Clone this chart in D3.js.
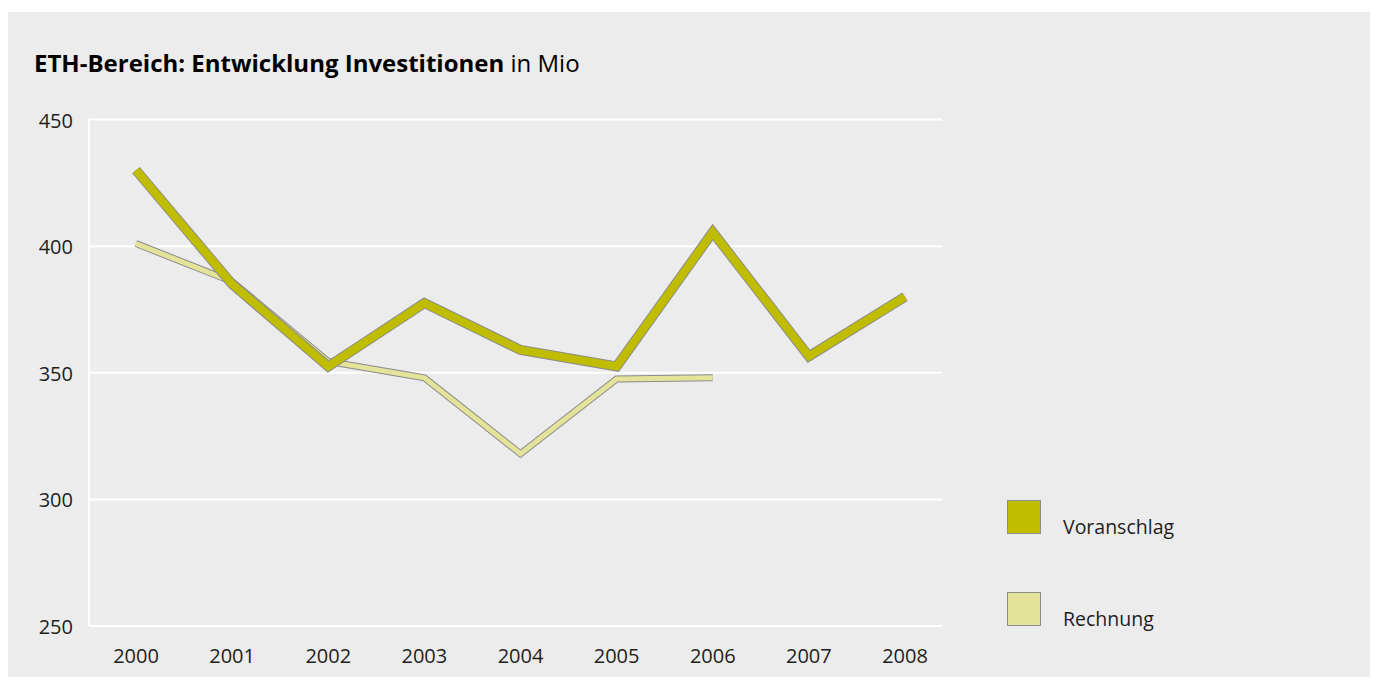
<!DOCTYPE html>
<html>
<head>
<meta charset="utf-8">
<script src="https://cdn.jsdelivr.net/npm/d3@7"></script>
<style>
  html, body { margin: 0; padding: 0; background: #fff; }
  svg text { font-family: "Open Sans", "Noto Sans", sans-serif; fill: #1e1e1e; }
</style>
</head>
<body>
<svg id="chart" width="1373" height="684"></svg>
<script>
// Daten (in Mio)
const years = ["2000", "2001", "2002", "2003", "2004", "2005", "2006", "2007", "2008"];
const voranschlag = [430, 385, 352.5, 377.5, 359, 352.5, 405.5, 356.5, 380];
const rechnung = [401, 386, 354.5, 348, 318, 347.5, 348, null, null];
const yTicks = [250, 300, 350, 400, 450];

const svg = d3.select("#chart");

// Hintergrund
svg.append("rect")
  .attr("x", 8).attr("y", 12)
  .attr("width", 1362).attr("height", 665)
  .attr("fill", "#ececec");

// Titel
const title = svg.append("text")
  .attr("x", 34).attr("y", 72)
  .style("font-size", "24px")
  .style("fill", "#000");
title.append("tspan").style("font-weight", "bold").text("ETH-Bereich: Entwicklung Investitionen");
title.append("tspan").text(" in Mio");

const plotLeft = 89, plotRight = 942, plotTop = 119.5, plotBottom = 626;

const x = d3.scalePoint()
  .domain(years)
  .range([136, 905]);

const y = d3.scaleLinear()
  .domain([250, 450])
  .range([plotBottom, plotTop]);

// Gitterlinien
svg.append("g")
  .selectAll("line")
  .data(yTicks)
  .join("line")
  .attr("x1", plotLeft).attr("x2", plotRight)
  .attr("y1", d => y(d)).attr("y2", d => y(d))
  .attr("stroke", "#fff")
  .attr("stroke-width", 2);

svg.append("line")
  .attr("x1", plotLeft).attr("x2", plotLeft)
  .attr("y1", plotTop).attr("y2", plotBottom)
  .attr("stroke", "#fff")
  .attr("stroke-width", 2);

// Achsenbeschriftung
svg.append("g")
  .selectAll("text")
  .data(yTicks)
  .join("text")
  .attr("x", 73)
  .attr("y", d => y(d) + 8)
  .attr("text-anchor", "end")
  .style("font-size", "20px")
  .text(d => d);

svg.append("g")
  .selectAll("text")
  .data(years)
  .join("text")
  .attr("x", d => x(d))
  .attr("y", 663)
  .attr("text-anchor", "middle")
  .style("font-size", "20px")
  .text(d => d);

// Linien: grauer Rand + Farbe
function drawLine(values, color, width) {
  const pts = years.map((yr, i) => [yr, values[i]]).filter(d => d[1] != null);
  const line = d3.line()
    .x(d => x(d[0]))
    .y(d => y(d[1]));
  const g = svg.append("g");
  g.append("path")
    .attr("d", line(pts))
    .attr("fill", "none")
    .attr("stroke", "#8c8c8c")
    .attr("stroke-width", width + 2)
    .attr("stroke-linejoin", "miter");
  g.append("path")
    .attr("d", line(pts))
    .attr("fill", "none")
    .attr("stroke", color)
    .attr("stroke-width", width)
    .attr("stroke-linejoin", "miter");
}

drawLine(rechnung, "#e3e39a", 5);
drawLine(voranschlag, "#c0bd00", 8);

// Legende
const legend = [
  { name: "Voranschlag", color: "#c0bd00", y: 500 },
  { name: "Rechnung", color: "#e3e39a", y: 592 }
];
const lg = svg.append("g");
lg.selectAll("rect")
  .data(legend)
  .join("rect")
  .attr("x", 1007.5)
  .attr("y", d => d.y + 0.5)
  .attr("width", 33).attr("height", 33)
  .attr("fill", d => d.color)
  .attr("stroke", "#8c8c8c")
  .attr("stroke-width", 1);
lg.selectAll("text")
  .data(legend)
  .join("text")
  .attr("x", 1063)
  .attr("y", d => d.y + 34)
  .style("font-size", "19.5px")
  .text(d => d.name);
</script>
</body>
</html>
